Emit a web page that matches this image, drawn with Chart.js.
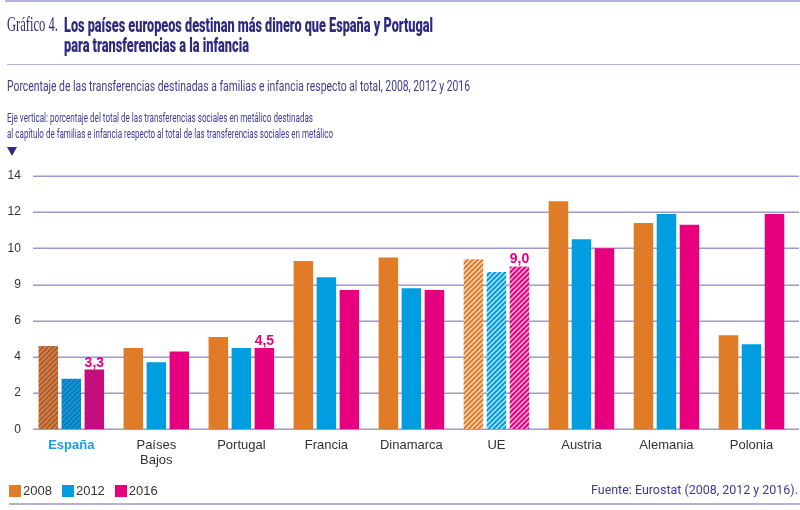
<!DOCTYPE html>
<html>
<head>
<meta charset="utf-8">
<script src="https://cdn.jsdelivr.net/npm/chart.js@4.4.1/dist/chart.umd.min.js"></script>
<style>
  html, body { margin: 0; padding: 0; background: #fff; }
  #page { position: relative; width: 800px; height: 510px; overflow: hidden; }
  #chart { position: absolute; left: 0; top: 0; }
  .txt { position: absolute; white-space: nowrap; transform-origin: 0 0; line-height: 1; }
  .rule { position: absolute; height: 1.5px; background: #b3b0dc; }
  #legend { position: absolute; left: 9px; top: 483px; display: flex; font: 13px "Liberation Sans", Arial, sans-serif; color: #333; }
  #legend .item { display: flex; align-items: center; margin-right: 10px; }
  #legend .box { width: 12px; height: 12px; margin-right: 2px; }
  #tri { position: absolute; left: 7px; top: 147px; width: 0; height: 0;
         border-left: 5px solid transparent; border-right: 5px solid transparent; border-top: 9px solid #2d2a80; }
</style>
</head>
<body>
<div id="page">
  <canvas id="chart" width="800" height="510"></canvas>

  <div class="rule" style="left:5px; top:0; width:795px;"></div>
  <div class="txt" data-w="51" style="left:7px; top:11.5px; font:21px 'Liberation Serif', serif; color:#2d2a80;">Gráfico 4.</div>
  <div class="txt" data-w="369" style="left:64px; top:12.5px; font:900 20px Roboto, sans-serif; color:#2d2a80;">Los países europeos destinan más dinero que España y Portugal</div>
  <div class="txt" data-w="185" style="left:64px; top:32.5px; font:900 20px Roboto, sans-serif; color:#2d2a80;">para transferencias a la infancia</div>
  <div class="rule" style="left:7px; top:63.5px; width:793px;"></div>
  <div class="txt" data-w="463" style="left:7px; top:77px; font:15.5px Roboto, sans-serif; color:#3d3b8e;">Porcentaje de las transferencias destinadas a familias e infancia respecto al total, 2008, 2012 y 2016</div>
  <div class="txt" data-w="306" style="left:7px; top:110px; font:12.8px Roboto, sans-serif; color:#3d3b8e;">Eje vertical: porcentaje del total de las transferencias sociales en metálico destinadas</div>
  <div class="txt" data-w="326" style="left:7px; top:126.3px; font:12.8px Roboto, sans-serif; color:#3d3b8e;">al capítulo de familias e infancia respecto al total de las transferencias sociales en metálico</div>
  <div id="tri"></div>

  <div id="legend"></div>
  <div class="txt" data-w="207" style="left:591px; top:481.5px; font:12.8px Roboto, sans-serif; color:#3d3b8e;">Fuente: Eurostat (2008, 2012 y 2016).</div>
  <div class="rule" style="left:9px; top:503px; width:791px;"></div>
</div>

<script>
// data
const categories = ["España", "Países Bajos", "Portugal", "Francia", "Dinamarca", "UE", "Austria", "Alemania", "Polonia"];
const years = ["2008", "2012", "2016"];
const values2008 = [4.6, 4.5, 5.1, 9.3, 9.5, 9.4, 12.6, 11.4, 5.2];
const values2012 = [2.8, 3.7, 4.5, 8.4, 7.8, 8.7, 10.5, 11.9, 4.7];
const values2016 = [3.3, 4.3, 4.5, 7.7, 7.7, 9.0, 10.0, 11.3, 11.9];
const yTickLabels = ["0", "2", "4", "6", "9", "10", "12", "14"];

const highlightCat = "España";
const hatchedCats = ["España", "UE"];
const labelledCats = ["España", "Portugal", "UE"];

const colors = ["#e07b27", "#009ee0", "#e6007e"];

// squeeze header texts to the reference widths (condensed face)
document.querySelectorAll(".txt[data-w]").forEach(function (el) {
  const w = el.getBoundingClientRect().width;
  el.style.transform = "scaleX(" + (+el.dataset.w / w) + ")";
});

// legend
const legend = document.getElementById("legend");
years.forEach(function (y, i) {
  const item = document.createElement("div");
  item.className = "item";
  item.innerHTML = '<span class="box" style="background:' + colors[i] + '"></span><span>' + y + "</span>";
  legend.appendChild(item);
});

function hatch(base, stripe) {
  const s = 5;
  const c = document.createElement("canvas");
  c.width = s; c.height = s;
  const g = c.getContext("2d");
  g.fillStyle = base;
  g.fillRect(0, 0, s, s);
  g.strokeStyle = stripe;
  g.lineWidth = 1.4;
  g.beginPath();
  g.moveTo(0, s); g.lineTo(s, 0);
  g.moveTo(-1, 1); g.lineTo(1, -1);
  g.moveTo(s - 1, s + 1); g.lineTo(s + 1, s - 1);
  g.stroke();
  return g.createPattern(c, "repeat");
}

const patterns = colors.map(function (c) {
  return {
    "España": hatch(c, "rgba(70,60,120,0.55)"),
    "UE": hatch(c, "rgba(255,255,255,0.75)")
  };
});

const gridLines = {
  id: "gridLines",
  beforeDatasetsDraw: (chart) => {
    const ctx = chart.ctx;
    const y = chart.scales.y;
    ctx.save();
    ctx.strokeStyle = "#9c9ad0";
    ctx.lineWidth = 1.5;
    y.ticks.forEach(function (t) {
      const py = Math.round(y.getPixelForValue(t.value)) + 0.25;
      ctx.beginPath();
      ctx.moveTo(33, py);
      ctx.lineTo(799, py);
      ctx.stroke();
    });
    ctx.restore();
  },
};

const valueLabels = {
  id: "valueLabels",
  afterDatasetsDraw: (chart) => {
    const ctx = chart.ctx;
    const meta = chart.getDatasetMeta(2);
    ctx.save();
    ctx.fillStyle = colors[2];
    ctx.font = "bold 14px 'Liberation Sans', Arial, sans-serif";
    ctx.textAlign = "center";
    ctx.textBaseline = "alphabetic";
    labelledCats.forEach(function (cat) {
      const i = categories.indexOf(cat);
      const bar = meta.data[i];
      ctx.fillText(values2016[i].toFixed(1).replace(".", ","), bar.x, bar.y - 3);
    });
    ctx.restore();
  },
};

const seriesValues = [values2008, values2012, values2016];

new Chart(document.getElementById("chart"), {
  type: "bar",
  data: {
    labels: categories,
    datasets: years.map(function (y, s) {
      return {
        label: y,
        data: seriesValues[s],
        backgroundColor: (c) => {
          const cat = categories[c.dataIndex];
          return hatchedCats.includes(cat) ? patterns[s][cat] : colors[s];
        },
        borderWidth: 0,
        categoryPercentage: 0.812,
        barPercentage: 0.848,
      };
    }),
  },
  options: {
    responsive: false,
    animation: false,
    layout: { padding: { top: 176, right: 6, bottom: 35.7, left: 0 } },
    scales: {
      x: {
        grid: { display: false, drawTicks: false },
        border: { display: false },
        afterFit: (s) => { s.height = 45; },
        ticks: {
          padding: 8,
          maxRotation: 0,
          autoSkip: false,
          callback: (v, i) => categories[i].includes(" ") ? categories[i].split(" ") : categories[i],
          color: (c) => categories[c.index] === highlightCat ? "#1a9ee0" : "#333",
          font: (c) => ({
            family: "'Liberation Sans', Arial, sans-serif",
            size: 13,
            weight: categories[c.index] === highlightCat ? "bold" : "normal",
          }),
        },
      },
      y: {
        min: 0,
        max: 14,
        grid: { display: false, drawTicks: false },
        border: { display: false },
        afterFit: (s) => { s.width = 28.8; },
        ticks: {
          stepSize: 2,
          padding: 8,
          color: "#333",
          font: { family: "'Liberation Sans', Arial, sans-serif", size: 12 },
          callback: (v) => yTickLabels[v / 2],
        },
      },
    },
    plugins: {
      legend: { display: false },
      tooltip: { enabled: false },
    },
  },
  plugins: [gridLines, valueLabels],
});
</script>
</body>
</html>
